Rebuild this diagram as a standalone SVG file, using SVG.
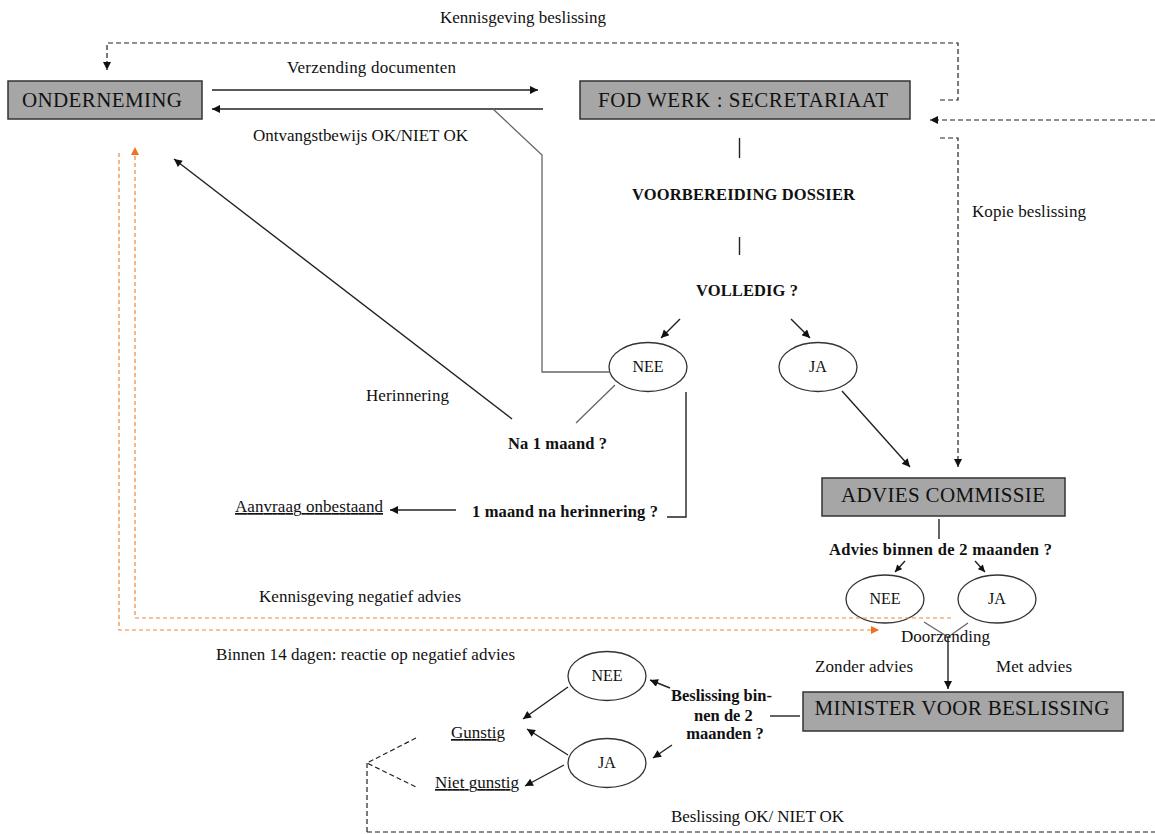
<svg xmlns="http://www.w3.org/2000/svg" width="1155" height="834" viewBox="0 0 1155 834">
<style>
  text { font-family: "Liberation Serif", "Times New Roman", serif; fill: #111; }
  .lbl { font-size: 17px; }
  .bold { font-size: 16.5px; font-weight: bold; }
  .box { fill: #a6a6a6; stroke: #333; stroke-width: 1.5; }
  .boxt { font-size: 21px; }
  .ell { fill: #fff; stroke: #333; stroke-width: 1.3; }
  .ellt { font-size: 16px; }
  .ln { fill: none; stroke: #222; stroke-width: 1.4; }
  .gray { fill: none; stroke: #666; stroke-width: 1.3; }
  .dash { fill: none; stroke: #222; stroke-width: 1.2; stroke-dasharray: 5 3; }
  .orng { fill: none; stroke: #f0883a; stroke-width: 1.2; stroke-dasharray: 4 3; }
  .ul { text-decoration: underline; }
</style>
<defs>
  <marker id="ah" viewBox="0 0 10 10" refX="10" refY="5" markerWidth="9" markerHeight="8" markerUnits="userSpaceOnUse" orient="auto">
    <path d="M0,0 L10,5 L0,10 z" fill="#111"/>
  </marker>
  <marker id="ahs" viewBox="0 0 10 10" refX="10" refY="5" markerWidth="8" markerHeight="7" markerUnits="userSpaceOnUse" orient="auto">
    <path d="M0,0 L10,5 L0,10 z" fill="#111"/>
  </marker>
  <marker id="aho" viewBox="0 0 10 10" refX="10" refY="5" markerWidth="9" markerHeight="8" markerUnits="userSpaceOnUse" orient="auto">
    <path d="M0,0 L10,5 L0,10 z" fill="#f07020"/>
  </marker>
</defs>
<rect width="1155" height="834" fill="#fff"/>

<g id="onderneming">
  <rect class="box" x="8" y="81" width="194" height="38"/>
  <text class="boxt" x="102" y="107" text-anchor="middle" textLength="160">ONDERNEMING</text>
</g>
<g id="fod-werk">
  <rect class="box" x="580" y="81" width="330" height="38"/>
  <text class="boxt" x="743" y="107" text-anchor="middle" textLength="290">FOD WERK : SECRETARIAAT</text>
</g>
<g id="voorbereiding">
  <text class="bold" x="743.5" y="200" text-anchor="middle" textLength="223">VOORBEREIDING DOSSIER</text>
</g>
<g id="volledig">
  <text class="bold" x="747" y="296" text-anchor="middle" textLength="102">VOLLEDIG ?</text>
</g>
<g id="nee1">
  <ellipse class="ell" cx="648" cy="367" rx="39" ry="24.5"/>
  <text class="ellt" x="648" y="372" text-anchor="middle">NEE</text>
</g>
<g id="ja1">
  <ellipse class="ell" cx="818" cy="367" rx="39" ry="24.5"/>
  <text class="ellt" x="818" y="372" text-anchor="middle">JA</text>
</g>
<g id="na-1-maand">
  <text class="bold" x="557.5" y="449" text-anchor="middle" textLength="99">Na 1 maand ?</text>
</g>
<g id="maand-na-herinnering">
  <text class="bold" x="565" y="517" text-anchor="middle" textLength="186">1 maand na herinnering ?</text>
</g>
<g id="aanvraag-onbestaand">
  <text class="lbl ul" x="309" y="512" text-anchor="middle" textLength="148">Aanvraag onbestaand</text>
</g>
<g id="advies-commissie">
  <rect class="box" x="822" y="478" width="243" height="38"/>
  <text class="boxt" x="943" y="502" text-anchor="middle" textLength="204">ADVIES COMMISSIE</text>
</g>
<g id="advies-vraag">
  <text class="bold" x="940.5" y="555" text-anchor="middle" textLength="223">Advies binnen de 2 maanden ?</text>
</g>
<g id="nee2">
  <ellipse class="ell" cx="885" cy="599" rx="39" ry="24"/>
  <text class="ellt" x="885" y="604" text-anchor="middle">NEE</text>
</g>
<g id="ja2">
  <ellipse class="ell" cx="997" cy="599" rx="39" ry="24"/>
  <text class="ellt" x="997" y="604" text-anchor="middle">JA</text>
</g>
<g id="minister">
  <rect class="box" x="803" y="692" width="320" height="39"/>
  <text class="boxt" x="962" y="715" text-anchor="middle" textLength="295">MINISTER VOOR BESLISSING</text>
</g>
<g id="beslissing-vraag">
  <text class="bold" text-anchor="middle">
    <tspan x="723.5" y="701" textLength="101">Beslissing bin-</tspan>
    <tspan x="725.5" y="721">nen de 2</tspan>
    <tspan x="725" y="739">maanden ?</tspan>
  </text>
</g>
<g id="nee3">
  <ellipse class="ell" cx="607" cy="676" rx="39" ry="24.5"/>
  <text class="ellt" x="607" y="681" text-anchor="middle">NEE</text>
</g>
<g id="ja3">
  <ellipse class="ell" cx="607" cy="763" rx="39" ry="24.5"/>
  <text class="ellt" x="607" y="768" text-anchor="middle">JA</text>
</g>
<g id="gunstig">
  <text class="lbl ul" x="478" y="738" text-anchor="middle" textLength="54">Gunstig</text>
</g>
<g id="niet-gunstig">
  <text class="lbl ul" x="477" y="788" text-anchor="middle" textLength="84">Niet gunstig</text>
</g>

<g id="connectors">
  <path class="dash" d="M940,100 H958 V43 H107 V70" marker-end="url(#ah)"/>
  <path class="dash" d="M1155,120 H930" marker-end="url(#ah)"/>
  <path class="dash" d="M940,138 H958 V467" marker-end="url(#ah)"/>
  <path class="ln" d="M212,90 H538" marker-end="url(#ah)"/>
  <path class="ln" d="M543,109 H212" marker-end="url(#ah)"/>
  <path class="gray" d="M493,109 L542,155 V372 H610"/>
  <path class="ln" d="M739.5,138 V158"/>
  <path class="ln" d="M739.5,237 V255"/>
  <path class="ln" d="M680,319 L661,338" marker-end="url(#ah)"/>
  <path class="ln" d="M791,319 L810,338" marker-end="url(#ah)"/>
  <path class="gray" d="M615,385 L576,423"/>
  <path class="ln" d="M686,392 V517 H667"/>
  <path class="ln" d="M512,419 L174,159" marker-end="url(#ah)"/>
  <path class="ln" d="M456,510 H390" marker-end="url(#ah)"/>
  <path class="ln" d="M842,391 L910,467" marker-end="url(#ah)"/>
  <path class="ln" d="M939,519 V539"/>
  <path class="ln" d="M905,561 L895,572" marker-end="url(#ahs)"/>
  <path class="ln" d="M975,561 L985,572" marker-end="url(#ahs)"/>
  <path class="gray" d="M924,622 L948,637 L968,623"/>
  <path class="ln" d="M948,637 V689" marker-end="url(#ah)"/>
  <path class="orng" d="M951,618 H135 V147" marker-end="url(#aho)"/>
  <path class="orng" d="M119,153 V630 H879" marker-end="url(#aho)"/>
  <path class="ln" d="M770,716 H800"/>
  <path class="ln" d="M670,688 L650,680" marker-end="url(#ah)"/>
  <path class="ln" d="M672,745 L653,758" marker-end="url(#ah)"/>
  <path class="ln" d="M568,687 L523,719" marker-end="url(#ah)"/>
  <path class="ln" d="M568,755 L527,729" marker-end="url(#ah)"/>
  <path class="ln" d="M564,765 L525,786" marker-end="url(#ah)"/>
  <path class="dash" d="M416,738 L367,763 L416,787"/>
  <path class="dash" d="M367,763 V834"/>
  <path class="dash" d="M367,832 H1155"/>
</g>

<g id="labels">
  <text class="lbl" x="523" y="23" text-anchor="middle" textLength="166">Kennisgeving beslissing</text>
  <text class="lbl" x="371.5" y="73" text-anchor="middle" textLength="169">Verzending documenten</text>
  <text class="lbl" x="360.5" y="141" text-anchor="middle" textLength="215">Ontvangstbewijs OK/NIET OK</text>
  <text class="lbl" x="972" y="217" textLength="114">Kopie beslissing</text>
  <text class="lbl" x="366" y="401" textLength="83">Herinnering</text>
  <text class="lbl" x="360" y="602" text-anchor="middle" textLength="202">Kennisgeving negatief advies</text>
  <text class="lbl" x="945.5" y="642" text-anchor="middle" textLength="89">Doorzending</text>
  <text class="lbl" x="365.5" y="660" text-anchor="middle" textLength="299">Binnen 14 dagen: reactie op negatief advies</text>
  <text class="lbl" x="864" y="672" text-anchor="middle" textLength="98">Zonder advies</text>
  <text class="lbl" x="1034" y="672" text-anchor="middle" textLength="76">Met advies</text>
  <text class="lbl" x="757.5" y="822" text-anchor="middle" textLength="173">Beslissing OK/ NIET OK</text>
</g>
</svg>
